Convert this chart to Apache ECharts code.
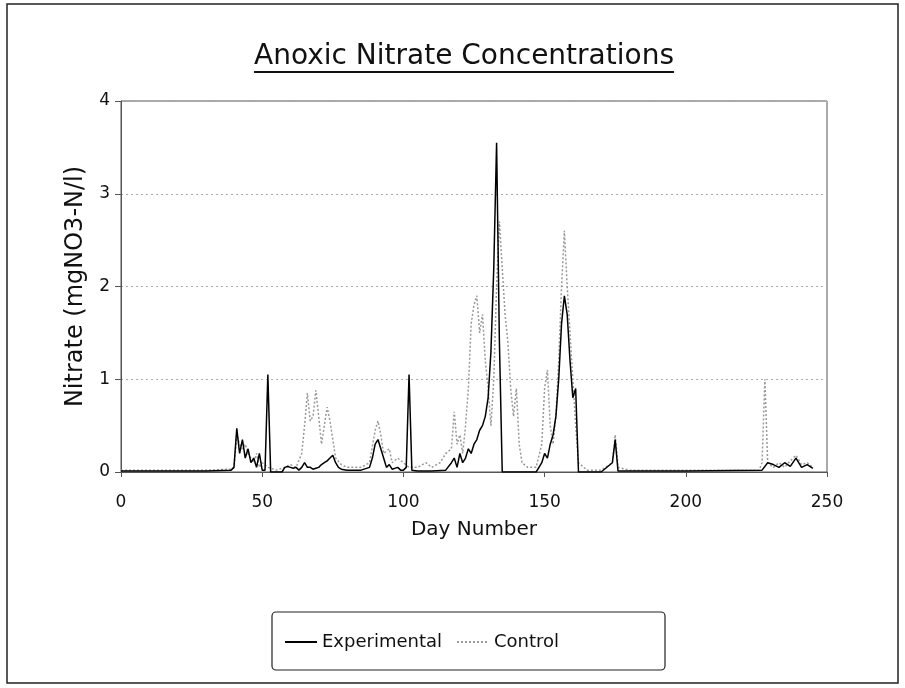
<!DOCTYPE html>
<html>
<head>
<meta charset="utf-8">
<script src="https://cdn.jsdelivr.net/npm/echarts@6/dist/echarts.min.js"></script>
<style>
  html, body { margin: 0; padding: 0; background: #fff; }
  #chart { width: 905px; height: 688px; }
</style>
</head>
<body>
<div id="chart"></div>
<script>
const titleText = 'Anoxic Nitrate Concentrations';
const xTicks = [0, 50, 100, 150, 200, 250];
const yTicks = [0, 1, 2, 3, 4];

const expDays = [0, 10, 20, 30, 39, 40, 41, 42, 43, 44, 45, 46, 47, 48, 49, 50, 51, 52, 53, 57,
  58, 59, 60, 61, 62, 63, 64, 65, 66, 67, 68, 69, 70, 71, 72, 73, 74, 75, 76, 77, 78, 80, 85, 88,
  89, 90, 91, 92, 93, 94, 95, 96, 98, 99, 100, 101, 102, 103, 105, 110, 115, 117, 118, 119, 120,
  121, 122, 123, 124, 125, 126, 127, 128, 129, 130, 131, 132, 133, 134, 135, 140, 147, 148, 149,
  150, 151, 152, 153, 154, 155, 156, 157, 158, 159, 160, 161, 162, 170, 174, 175, 176, 200, 227,
  229, 231, 233, 235, 237, 239, 241, 243, 245];
const expValues = [0.01, 0.01, 0.01, 0.01, 0.02, 0.05, 0.47, 0.2, 0.35, 0.15, 0.25, 0.1, 0.15, 0.05, 0.2, 0.02, 0.02, 1.05, 0, 0,
  0.05, 0.06, 0.05, 0.04, 0.05, 0.02, 0.05, 0.1, 0.05, 0.05, 0.03, 0.04, 0.05, 0.08, 0.1, 0.12, 0.15, 0.18, 0.1, 0.05, 0.03, 0.02, 0.02, 0.05,
  0.15, 0.3, 0.35, 0.25, 0.15, 0.05, 0.08, 0.03, 0.05, 0.02, 0.02, 0.05, 1.05, 0.02, 0.01, 0.01, 0.02, 0.1, 0.15, 0.05, 0.2,
  0.1, 0.15, 0.25, 0.2, 0.3, 0.35, 0.45, 0.5, 0.6, 0.8, 1.3, 2.2, 3.55, 1.4, 0, 0, 0, 0.05, 0.1,
  0.2, 0.15, 0.3, 0.4, 0.6, 1.0, 1.6, 1.9, 1.7, 1.2, 0.8, 0.9, 0, 0, 0.1, 0.35, 0.01, 0.01, 0.02,
  0.1, 0.08, 0.05, 0.1, 0.06, 0.15, 0.05, 0.08, 0.04];

const ctrlDays = [0, 10, 20, 30, 39, 40, 41, 42, 43, 44, 45, 46, 47, 48, 49, 50, 52, 55, 58, 60,
  62, 64, 65, 66, 67, 68, 69, 70, 71, 72, 73, 74, 75, 76, 78, 80, 85, 88, 90, 91, 92, 93, 95, 96,
  98, 100, 102, 105, 108, 110, 113, 115, 117, 118, 119, 120, 121, 122, 123, 124, 125, 126, 127,
  128, 129, 130, 131, 132, 133, 134, 135, 136, 137, 138, 139, 140, 141, 142, 144, 147, 149, 150,
  151, 152, 153, 154, 155, 156, 157, 158, 159, 160, 161, 162, 165, 170, 174, 175, 176, 180, 226,
  227, 228, 229, 231, 233, 235, 237, 239, 241, 243, 245];
const ctrlValues = [0.02, 0.02, 0.02, 0.02, 0.03, 0.05, 0.4, 0.3, 0.25, 0.3, 0.2, 0.15, 0.1, 0.2, 0.05, 0.1, 0.05, 0.02, 0.05, 0.08,
  0.05, 0.2, 0.5, 0.85, 0.55, 0.6, 0.88, 0.6, 0.3, 0.5, 0.7, 0.55, 0.35, 0.15, 0.08, 0.05, 0.05, 0.1, 0.45, 0.55, 0.4, 0.2, 0.25, 0.1,
  0.15, 0.1, 0.05, 0.05, 0.1, 0.05, 0.1, 0.2, 0.25, 0.65, 0.3, 0.4, 0.2, 0.5, 0.9, 1.6, 1.8, 1.9, 1.5,
  1.7, 1.2, 0.9, 0.5, 1.0, 2.0, 2.7, 2.2, 1.7, 1.4, 0.9, 0.6, 0.9, 0.3, 0.1, 0.05, 0.05, 0.3, 0.9,
  1.1, 0.5, 0.3, 0.6, 1.2, 2.0, 2.6, 2.0, 1.5, 1.0, 0.5, 0.1, 0.02, 0.02, 0.1, 0.4, 0.05, 0.02, 0.02,
  0.1, 1.0, 0.1, 0.05, 0.1, 0.05, 0.12, 0.18, 0.08, 0.1, 0.05];

const pairs = (xs, ys) => xs.map((x, i) => [x, ys[i]]);

const font = 'DejaVu Sans, Liberation Sans, sans-serif';
const titleFont = '28px ' + font;
const titleCx = 464;

// measure title so the underline matches the text width
const measure = document.createElement('canvas').getContext('2d');
measure.font = titleFont;
const titleW = measure.measureText(titleText).width;

const chart = echarts.init(document.getElementById('chart'));

chart.setOption({
  backgroundColor: '#fff',
  animation: false,
  textStyle: { fontFamily: font, color: '#111' },
  grid: { left: 121, right: 78, top: 101, bottom: 216, show: true, borderColor: '#555', borderWidth: 1 },
  graphic: [
    { type: 'rect', shape: { x: 7, y: 4, width: 891, height: 679 }, style: { fill: 'none', stroke: '#222', lineWidth: 1.5 } },
    { type: 'text', x: titleCx, y: 57, style: { text: titleText, font: titleFont, fill: '#111', align: 'center', verticalAlign: 'middle' } },
    { type: 'line', shape: { x1: titleCx - titleW / 2, y1: 72, x2: titleCx + titleW / 2, y2: 72 }, style: { stroke: '#111', lineWidth: 2 } },
    { type: 'rect', shape: { x: 272, y: 612, width: 393, height: 58, r: 4 }, style: { fill: 'none', stroke: '#222', lineWidth: 1.2 } }
  ],
  legend: {
    left: 284, top: 633, padding: 0,
    itemWidth: 32, itemHeight: 14, itemGap: 14,
    itemStyle: { opacity: 0 },
    textStyle: { fontSize: 18, color: '#111', fontFamily: font },
    data: ['Experimental', 'Control']
  },
  xAxis: {
    type: 'value', min: xTicks[0], max: xTicks[xTicks.length - 1], interval: 50,
    name: 'Day Number', nameLocation: 'middle', nameGap: 48,
    nameTextStyle: { fontSize: 20, color: '#111' },
    axisLine: { lineStyle: { color: '#555' } },
    axisTick: { show: true, length: 5, lineStyle: { color: '#555' } },
    axisLabel: { fontSize: 17, color: '#111', margin: 22 },
    splitLine: { show: false }
  },
  yAxis: {
    type: 'value', min: yTicks[0], max: yTicks[yTicks.length - 1], interval: 1,
    name: 'Nitrate (mgNO3-N/l)', nameLocation: 'middle', nameGap: 33,
    nameTextStyle: { fontSize: 24, color: '#111' },
    axisLine: { show: true, lineStyle: { color: '#555' } },
    axisTick: { show: true, length: 6, lineStyle: { color: '#555' } },
    axisLabel: { fontSize: 17, color: '#111', margin: 11 },
    splitLine: { show: true, lineStyle: { color: '#aaa', type: [2, 3], width: 1 } }
  },
  series: [
    {
      name: 'Experimental', type: 'line', data: pairs(expDays, expValues),
      showSymbol: false, symbol: 'none',
      lineStyle: { color: '#000', width: 1.5 }, itemStyle: { color: '#000' }, z: 3
    },
    {
      name: 'Control', type: 'line', data: pairs(ctrlDays, ctrlValues),
      showSymbol: false, symbol: 'none',
      lineStyle: { color: '#999', width: 1.5, type: [2, 2] }, itemStyle: { color: '#999' }, z: 2
    }
  ]
});
</script>
</body>
</html>
